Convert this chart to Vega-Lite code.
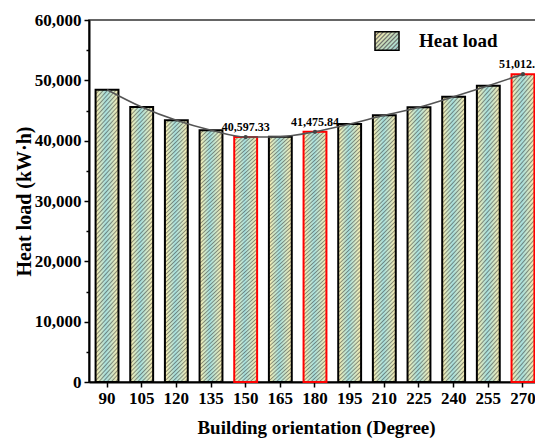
{
  "$schema": "https://vega.github.io/schema/vega-lite/v6.json",
  "autosize": "none",
  "width": 452,
  "height": 362,
  "padding": {"left": 89, "top": 20, "right": 0, "bottom": 58},
  "background": "white",
  "config": {
    "view": {"stroke": "#333333", "strokeWidth": 1.5},
    "font": "Liberation Serif"
  },
  "data": {
    "values": [
      {"orientation": 90, "load": 48450},
      {"orientation": 105, "load": 45580},
      {"orientation": 120, "load": 43375},
      {"orientation": 135, "load": 41720},
      {"orientation": 150, "load": 40597.33},
      {"orientation": 165, "load": 40660},
      {"orientation": 180, "load": 41475.84},
      {"orientation": 195, "load": 42765},
      {"orientation": 210, "load": 44200},
      {"orientation": 225, "load": 45530},
      {"orientation": 240, "load": 47290},
      {"orientation": 255, "load": 49115},
      {"orientation": 270, "load": 51012.83}
    ]
  },
  "encoding": {
    "x": {
      "field": "orientation",
      "type": "ordinal",
      "scale": {"paddingInner": 0.34, "paddingOuter": 0.19},
      "axis": {
        "title": "Building orientation (Degree)",
        "labelAngle": 0,
        "labelFont": "Liberation Serif",
        "labelFontWeight": "bold",
        "labelFontSize": 17,
        "labelColor": "#000000",
        "labelPadding": 3,
        "tickSize": 5,
        "tickColor": "#000000",
        "tickWidth": 1.5,
        "domainColor": "#000000",
        "domainWidth": 2,
        "titleFont": "Liberation Serif",
        "titleFontWeight": "bold",
        "titleFontSize": 19,
        "titleColor": "#000000",
        "titlePadding": 12,
        "titleX": 227,
        "titleAnchor": "middle"
      }
    },
    "y": {
      "field": "load",
      "type": "quantitative",
      "scale": {"domain": [0, 60000], "nice": false},
      "axis": {
        "title": "Heat load (kW·h)",
        "values": [0, 5000, 10000, 15000, 20000, 25000, 30000, 35000, 40000, 45000, 50000, 55000, 60000],
        "labelExpr": "datum.value % 10000 === 0 ? format(datum.value, ',') : ''",
        "grid": false,
        "labelFont": "Liberation Serif",
        "labelFontWeight": "bold",
        "labelFontSize": 17,
        "labelColor": "#000000",
        "labelPadding": 3,
        "tickSize": {"condition": {"test": "datum.value % 10000 === 0", "value": 5}, "value": 3},
        "tickColor": "#000000",
        "tickWidth": 1.5,
        "domainColor": "#000000",
        "domainWidth": 2,
        "titleFont": "Liberation Serif",
        "titleFontWeight": "bold",
        "titleFontSize": 20,
        "titleColor": "#000000",
        "titlePadding": 0
      }
    }
  },
  "layer": [
    {
      "mark": {
        "type": "bar",
        "strokeWidth": 0,
        "fill": {
          "gradient": "linear",
          "x1": 0, "y1": 0, "x2": 1, "y2": 0,
          "stops": [
            {"offset": 0, "color": "#fbecac"},
            {"offset": 0.45, "color": "#a6dedd"},
            {"offset": 1, "color": "#f8eaae"}
          ]
        }
      },
      "encoding": {}
    },
    {
      "mark": {
        "type": "bar",
        "strokeWidth": 2,
        "fill": {
          "gradient": "linear",
          "x1": 0, "y1": 0, "x2": 0.1053, "y2": 1.2355,
          "stops": [
            {"offset":0,"color":"#22222278"},{"offset":0.004,"color":"#22222200"},{"offset":0.0085,"color":"#22222200"},
            {"offset":0.0125,"color":"#22222278"},{"offset":0.0165,"color":"#22222200"},{"offset":0.021,"color":"#22222200"},
            {"offset":0.025,"color":"#22222278"},{"offset":0.029,"color":"#22222200"},{"offset":0.0335,"color":"#22222200"},
            {"offset":0.0375,"color":"#22222278"},{"offset":0.0415,"color":"#22222200"},{"offset":0.046,"color":"#22222200"},
            {"offset":0.05,"color":"#22222278"},{"offset":0.054,"color":"#22222200"},{"offset":0.0585,"color":"#22222200"},
            {"offset":0.0625,"color":"#22222278"},{"offset":0.0665,"color":"#22222200"},{"offset":0.071,"color":"#22222200"},
            {"offset":0.075,"color":"#22222278"},{"offset":0.079,"color":"#22222200"},{"offset":0.0835,"color":"#22222200"},
            {"offset":0.0875,"color":"#22222278"},{"offset":0.0915,"color":"#22222200"},{"offset":0.096,"color":"#22222200"},
            {"offset":0.1,"color":"#22222278"},{"offset":0.104,"color":"#22222200"},{"offset":0.1085,"color":"#22222200"},
            {"offset":0.1125,"color":"#22222278"},{"offset":0.1165,"color":"#22222200"},{"offset":0.121,"color":"#22222200"},
            {"offset":0.125,"color":"#22222278"},{"offset":0.129,"color":"#22222200"},{"offset":0.1335,"color":"#22222200"},
            {"offset":0.1375,"color":"#22222278"},{"offset":0.1415,"color":"#22222200"},{"offset":0.146,"color":"#22222200"},
            {"offset":0.15,"color":"#22222278"},{"offset":0.154,"color":"#22222200"},{"offset":0.1585,"color":"#22222200"},
            {"offset":0.1625,"color":"#22222278"},{"offset":0.1665,"color":"#22222200"},{"offset":0.171,"color":"#22222200"},
            {"offset":0.175,"color":"#22222278"},{"offset":0.179,"color":"#22222200"},{"offset":0.1835,"color":"#22222200"},
            {"offset":0.1875,"color":"#22222278"},{"offset":0.1915,"color":"#22222200"},{"offset":0.196,"color":"#22222200"},
            {"offset":0.2,"color":"#22222278"},{"offset":0.204,"color":"#22222200"},{"offset":0.2085,"color":"#22222200"},
            {"offset":0.2125,"color":"#22222278"},{"offset":0.2165,"color":"#22222200"},{"offset":0.221,"color":"#22222200"},
            {"offset":0.225,"color":"#22222278"},{"offset":0.229,"color":"#22222200"},{"offset":0.2335,"color":"#22222200"},
            {"offset":0.2375,"color":"#22222278"},{"offset":0.2415,"color":"#22222200"},{"offset":0.246,"color":"#22222200"},
            {"offset":0.25,"color":"#22222278"},{"offset":0.254,"color":"#22222200"},{"offset":0.2585,"color":"#22222200"},
            {"offset":0.2625,"color":"#22222278"},{"offset":0.2665,"color":"#22222200"},{"offset":0.271,"color":"#22222200"},
            {"offset":0.275,"color":"#22222278"},{"offset":0.279,"color":"#22222200"},{"offset":0.2835,"color":"#22222200"},
            {"offset":0.2875,"color":"#22222278"},{"offset":0.2915,"color":"#22222200"},{"offset":0.296,"color":"#22222200"},
            {"offset":0.3,"color":"#22222278"},{"offset":0.304,"color":"#22222200"},{"offset":0.3085,"color":"#22222200"},
            {"offset":0.3125,"color":"#22222278"},{"offset":0.3165,"color":"#22222200"},{"offset":0.321,"color":"#22222200"},
            {"offset":0.325,"color":"#22222278"},{"offset":0.329,"color":"#22222200"},{"offset":0.3335,"color":"#22222200"},
            {"offset":0.3375,"color":"#22222278"},{"offset":0.3415,"color":"#22222200"},{"offset":0.346,"color":"#22222200"},
            {"offset":0.35,"color":"#22222278"},{"offset":0.354,"color":"#22222200"},{"offset":0.3585,"color":"#22222200"},
            {"offset":0.3625,"color":"#22222278"},{"offset":0.3665,"color":"#22222200"},{"offset":0.371,"color":"#22222200"},
            {"offset":0.375,"color":"#22222278"},{"offset":0.379,"color":"#22222200"},{"offset":0.3835,"color":"#22222200"},
            {"offset":0.3875,"color":"#22222278"},{"offset":0.3915,"color":"#22222200"},{"offset":0.396,"color":"#22222200"},
            {"offset":0.4,"color":"#22222278"},{"offset":0.404,"color":"#22222200"},{"offset":0.4085,"color":"#22222200"},
            {"offset":0.4125,"color":"#22222278"},{"offset":0.4165,"color":"#22222200"},{"offset":0.421,"color":"#22222200"},
            {"offset":0.425,"color":"#22222278"},{"offset":0.429,"color":"#22222200"},{"offset":0.4335,"color":"#22222200"},
            {"offset":0.4375,"color":"#22222278"},{"offset":0.4415,"color":"#22222200"},{"offset":0.446,"color":"#22222200"},
            {"offset":0.45,"color":"#22222278"},{"offset":0.454,"color":"#22222200"},{"offset":0.4585,"color":"#22222200"},
            {"offset":0.4625,"color":"#22222278"},{"offset":0.4665,"color":"#22222200"},{"offset":0.471,"color":"#22222200"},
            {"offset":0.475,"color":"#22222278"},{"offset":0.479,"color":"#22222200"},{"offset":0.4835,"color":"#22222200"},
            {"offset":0.4875,"color":"#22222278"},{"offset":0.4915,"color":"#22222200"},{"offset":0.496,"color":"#22222200"},
            {"offset":0.5,"color":"#22222278"},{"offset":0.504,"color":"#22222200"},{"offset":0.5085,"color":"#22222200"},
            {"offset":0.5125,"color":"#22222278"},{"offset":0.5165,"color":"#22222200"},{"offset":0.521,"color":"#22222200"},
            {"offset":0.525,"color":"#22222278"},{"offset":0.529,"color":"#22222200"},{"offset":0.5335,"color":"#22222200"},
            {"offset":0.5375,"color":"#22222278"},{"offset":0.5415,"color":"#22222200"},{"offset":0.546,"color":"#22222200"},
            {"offset":0.55,"color":"#22222278"},{"offset":0.554,"color":"#22222200"},{"offset":0.5585,"color":"#22222200"},
            {"offset":0.5625,"color":"#22222278"},{"offset":0.5665,"color":"#22222200"},{"offset":0.571,"color":"#22222200"},
            {"offset":0.575,"color":"#22222278"},{"offset":0.579,"color":"#22222200"},{"offset":0.5835,"color":"#22222200"},
            {"offset":0.5875,"color":"#22222278"},{"offset":0.5915,"color":"#22222200"},{"offset":0.596,"color":"#22222200"},
            {"offset":0.6,"color":"#22222278"},{"offset":0.604,"color":"#22222200"},{"offset":0.6085,"color":"#22222200"},
            {"offset":0.6125,"color":"#22222278"},{"offset":0.6165,"color":"#22222200"},{"offset":0.621,"color":"#22222200"},
            {"offset":0.625,"color":"#22222278"},{"offset":0.629,"color":"#22222200"},{"offset":0.6335,"color":"#22222200"},
            {"offset":0.6375,"color":"#22222278"},{"offset":0.6415,"color":"#22222200"},{"offset":0.646,"color":"#22222200"},
            {"offset":0.65,"color":"#22222278"},{"offset":0.654,"color":"#22222200"},{"offset":0.6585,"color":"#22222200"},
            {"offset":0.6625,"color":"#22222278"},{"offset":0.6665,"color":"#22222200"},{"offset":0.671,"color":"#22222200"},
            {"offset":0.675,"color":"#22222278"},{"offset":0.679,"color":"#22222200"},{"offset":0.6835,"color":"#22222200"},
            {"offset":0.6875,"color":"#22222278"},{"offset":0.6915,"color":"#22222200"},{"offset":0.696,"color":"#22222200"},
            {"offset":0.7,"color":"#22222278"},{"offset":0.704,"color":"#22222200"},{"offset":0.7085,"color":"#22222200"},
            {"offset":0.7125,"color":"#22222278"},{"offset":0.7165,"color":"#22222200"},{"offset":0.721,"color":"#22222200"},
            {"offset":0.725,"color":"#22222278"},{"offset":0.729,"color":"#22222200"},{"offset":0.7335,"color":"#22222200"},
            {"offset":0.7375,"color":"#22222278"},{"offset":0.7415,"color":"#22222200"},{"offset":0.746,"color":"#22222200"},
            {"offset":0.75,"color":"#22222278"},{"offset":0.754,"color":"#22222200"},{"offset":0.7585,"color":"#22222200"},
            {"offset":0.7625,"color":"#22222278"},{"offset":0.7665,"color":"#22222200"},{"offset":0.771,"color":"#22222200"},
            {"offset":0.775,"color":"#22222278"},{"offset":0.779,"color":"#22222200"},{"offset":0.7835,"color":"#22222200"},
            {"offset":0.7875,"color":"#22222278"},{"offset":0.7915,"color":"#22222200"},{"offset":0.796,"color":"#22222200"},
            {"offset":0.8,"color":"#22222278"},{"offset":0.804,"color":"#22222200"},{"offset":0.8085,"color":"#22222200"},
            {"offset":0.8125,"color":"#22222278"},{"offset":0.8165,"color":"#22222200"},{"offset":0.821,"color":"#22222200"},
            {"offset":0.825,"color":"#22222278"},{"offset":0.829,"color":"#22222200"},{"offset":0.8335,"color":"#22222200"},
            {"offset":0.8375,"color":"#22222278"},{"offset":0.8415,"color":"#22222200"},{"offset":0.846,"color":"#22222200"},
            {"offset":0.85,"color":"#22222278"},{"offset":0.854,"color":"#22222200"},{"offset":0.8585,"color":"#22222200"},
            {"offset":0.8625,"color":"#22222278"},{"offset":0.8665,"color":"#22222200"},{"offset":0.871,"color":"#22222200"},
            {"offset":0.875,"color":"#22222278"},{"offset":0.879,"color":"#22222200"},{"offset":0.8835,"color":"#22222200"},
            {"offset":0.8875,"color":"#22222278"},{"offset":0.8915,"color":"#22222200"},{"offset":0.896,"color":"#22222200"},
            {"offset":0.9,"color":"#22222278"},{"offset":0.904,"color":"#22222200"},{"offset":0.9085,"color":"#22222200"},
            {"offset":0.9125,"color":"#22222278"},{"offset":0.9165,"color":"#22222200"},{"offset":0.921,"color":"#22222200"},
            {"offset":0.925,"color":"#22222278"},{"offset":0.929,"color":"#22222200"},{"offset":0.9335,"color":"#22222200"},
            {"offset":0.9375,"color":"#22222278"},{"offset":0.9415,"color":"#22222200"},{"offset":0.946,"color":"#22222200"},
            {"offset":0.95,"color":"#22222278"},{"offset":0.954,"color":"#22222200"},{"offset":0.9585,"color":"#22222200"},
            {"offset":0.9625,"color":"#22222278"},{"offset":0.9665,"color":"#22222200"},{"offset":0.971,"color":"#22222200"},
            {"offset":0.975,"color":"#22222278"},{"offset":0.979,"color":"#22222200"},{"offset":0.9835,"color":"#22222200"},
            {"offset":0.9875,"color":"#22222278"},{"offset":0.9915,"color":"#22222200"},{"offset":0.996,"color":"#22222200"},
            {"offset":1,"color":"#22222278"}
          ]
        }
      },
      "encoding": {
        "stroke": {
          "condition": {"test": "datum.orientation === 150 || datum.orientation === 180 || datum.orientation === 270", "value": "#ff0000"},
          "value": "#000000"
        }
      }
    },
    {
      "mark": {"type": "line", "interpolate": "monotone", "color": "#555555", "strokeWidth": 1.6},
      "encoding": {}
    },
    {
      "transform": [{"filter": "datum.orientation === 150 || datum.orientation === 180 || datum.orientation === 270"}],
      "mark": {"type": "point", "filled": true, "color": "#444444", "size": 18, "opacity": 1},
      "encoding": {}
    },
    {
      "transform": [{"filter": "datum.orientation === 150 || datum.orientation === 180 || datum.orientation === 270"}],
      "mark": {"type": "text", "dy": -10, "font": "Liberation Serif", "fontWeight": "bold", "fontSize": 12, "color": "#000000"},
      "encoding": {
        "text": {"field": "load", "type": "quantitative", "format": ",.2f"}
      }
    },
    {
      "transform": [{"filter": "datum.orientation === 90"}],
      "mark": {"type": "point", "filled": true, "opacity": 0, "color": "#c2d3b6"},
      "encoding": {
        "shape": {
          "datum": "Heat load",
          "type": "nominal",
          "scale": {"range": ["M-1.3,-1H1.3V1H-1.3Z"]},
          "legend": {
            "title": null,
            "orient": "none",
            "legendX": 288,
            "legendY": 11,
            "symbolSize": 342,
            "symbolStrokeColor": "#000000",
            "symbolStrokeWidth": 1.5,
            "symbolOpacity": 1,
            "labelFont": "Liberation Serif",
            "labelFontWeight": "bold",
            "labelFontSize": 19,
            "labelColor": "#000000",
            "labelOffset": 22,
            "encoding": {
              "symbols": {
                "fill": {"value": {
                  "gradient": "linear",
                  "x1": 0, "y1": 0, "x2": 1.12, "y2": 0.84,
                  "stops": [
                    {"offset":0,"color":"#666666"},{"offset":0.036,"color":"#f6e7a6"},{"offset":0.064,"color":"#f6e7a6"},
                    {"offset":0.1,"color":"#666666"},{"offset":0.136,"color":"#ece4aa"},{"offset":0.164,"color":"#ece4aa"},
                    {"offset":0.2,"color":"#666666"},{"offset":0.236,"color":"#e1e2af"},{"offset":0.264,"color":"#e1e2af"},
                    {"offset":0.3,"color":"#666666"},{"offset":0.336,"color":"#d6e0b4"},{"offset":0.364,"color":"#d6e0b4"},
                    {"offset":0.4,"color":"#666666"},{"offset":0.436,"color":"#cbdeba"},{"offset":0.464,"color":"#cbdeba"},
                    {"offset":0.5,"color":"#666666"},{"offset":0.536,"color":"#c1ddc0"},{"offset":0.564,"color":"#c1ddc0"},
                    {"offset":0.6,"color":"#666666"},{"offset":0.636,"color":"#b8dcc6"},{"offset":0.664,"color":"#b8dcc6"},
                    {"offset":0.7,"color":"#666666"},{"offset":0.736,"color":"#afdbcc"},{"offset":0.764,"color":"#afdbcc"},
                    {"offset":0.8,"color":"#666666"},{"offset":0.836,"color":"#a8dad2"},{"offset":0.864,"color":"#a8dad2"},
                    {"offset":0.9,"color":"#666666"},{"offset":0.936,"color":"#a4d9d7"},{"offset":0.964,"color":"#a4d9d7"},
                    {"offset":1,"color":"#666666"}
                  ]
                }},
                "opacity": {"value": 1},
                "fillOpacity": {"value": 1},
                "stroke": {"value": "#000000"},
                "strokeWidth": {"value": 1.5}
              }
            }
          }
        }
      }
    }
  ]
}
